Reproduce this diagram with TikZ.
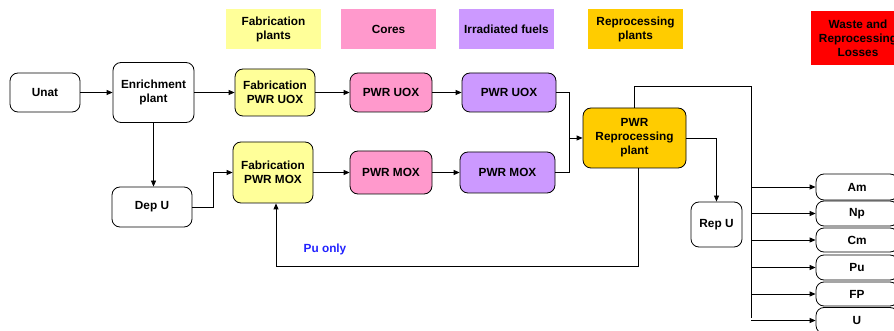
\documentclass[tikz,border=0pt]{standalone}
\usepackage{fontspec}
\setmainfont{Liberation Sans}
\usetikzlibrary{arrows.meta}
\definecolor{fabc}{HTML}{FFFF99}
\definecolor{corec}{HTML}{FF99CC}
\definecolor{irrc}{HTML}{CC99FF}
\definecolor{repc}{HTML}{FFCC00}
\definecolor{wastec}{HTML}{FF0000}
\definecolor{puc}{HTML}{2222FF}
\begin{document}
\begin{tikzpicture}[x=1pt,y=-1pt,
  every node/.style={font=\fontsize{11.8}{14}\selectfont\bfseries, align=center, inner sep=0pt},
  box/.style={draw, line width=0.8pt, rounded corners=8pt},
  legend/.style={draw=none},
  arr/.style={line width=0.8pt, -{Triangle[length=6pt,width=5pt]}},
  ln/.style={line width=0.8pt}]
\clip (0,0) rectangle (894,331);
\fill[white] (0,0) rectangle (894,331);
% legend
\node[legend, fill=fabc, minimum width=95pt, minimum height=40pt] (lfab) at (273.5,29) {Fabrication\\plants};
\node[legend, fill=corec, minimum width=95pt, minimum height=40pt] (lcore) at (388.5,29) {Cores};
\node[legend, fill=irrc, minimum width=95pt, minimum height=40pt] (lirr) at (506.5,29) {Irradiated fuels};
\node[legend, fill=repc, minimum width=95pt, minimum height=40pt] (lrep) at (635.5,29) {Reprocessing\\plants};
\node[legend, fill=wastec, minimum width=94pt, minimum height=54pt] (lwaste) at (858,38) {Waste and\\Reprocessing\\Losses};
% main nodes
\node[box, minimum width=70pt, minimum height=39pt] (unat) at (45,92.5) {Unat};
\node[box, minimum width=81pt, minimum height=60pt] (enr) at (153.5,92.5) {Enrichment\\plant};
\node[box, fill=fabc, minimum width=80pt, minimum height=47pt] (fuox) at (275,92.5) {Fabrication\\PWR UOX};
\node[box, fill=corec, minimum width=82pt, minimum height=39pt] (cuox) at (391,92.5) {PWR UOX};
\node[box, fill=irrc, minimum width=94pt, minimum height=39pt] (iuox) at (509,92.5) {PWR UOX};
\node[box, fill=repc, minimum width=103pt, minimum height=60pt] (rep) at (634.5,138) {PWR\\Reprocessing\\plant};
\node[box, fill=fabc, minimum width=80pt, minimum height=61pt] (fmox) at (273,172.5) {Fabrication\\PWR MOX};
\node[box, fill=corec, minimum width=82pt, minimum height=43pt] (cmox) at (391,172.5) {PWR MOX};
\node[box, fill=irrc, minimum width=95pt, minimum height=41pt] (imox) at (507.5,172.5) {PWR MOX};
\node[box, minimum width=80pt, minimum height=40pt] (depu) at (152,207) {Dep U};
\node[box, minimum width=51pt, minimum height=45pt] (repu) at (716.5,224.5) {Rep U};
% waste boxes
\node[box, minimum width=82pt, minimum height=26pt] (am) at (857,187) {Am};
\node[box, minimum width=82pt, minimum height=25pt] (np) at (857,213.5) {Np};
\node[box, minimum width=82pt, minimum height=24pt] (cm) at (857,240) {Cm};
\node[box, minimum width=82pt, minimum height=25pt] (pu) at (857,267.5) {Pu};
\node[box, minimum width=82pt, minimum height=24pt] (fp) at (857,294) {FP};
\node[box, minimum width=82pt, minimum height=26pt] (u) at (857,320.5) {U};
% connectors
\draw[arr] (unat.east) -- (unat.east -| enr.west);
\draw[arr] (enr.east) -- (enr.east -| fuox.west);
\draw[arr] (fuox.east) -- (fuox.east -| cuox.west);
\draw[arr] (cuox.east) -- (cuox.east -| iuox.west);
\draw[arr] (fmox.east) -- (fmox.east -| cmox.west);
\draw[arr] (cmox.east) -- (cmox.east -| imox.west);
\coordinate (jx) at (569,138);
\draw[arr] (iuox.east) -| (jx) -- (rep.west);
\draw[ln] (imox.east) -| (jx);
\draw[arr] (enr.south) -- (enr.south |- depu.north);
\coordinate (jd) at (213,172.5);
\draw[arr] (depu.east) -| (jd) -- (fmox.west);
\draw[arr] (rep.east) -| (repu.north);
\coordinate (pa) at (638,168);
\coordinate (pb) at (276,266);
\draw[arr] (pa) |- (pb) -- (pb |- fmox.south);
\node[text=puc] (puonly) at (325,249) {Pu only};
\coordinate (bus) at (751,86);
\coordinate (busend) at (751,318);
\draw[ln] (rep.north) |- (bus) -- (busend);
\foreach \n in {am,np,cm,pu,fp,u}{
  \draw[arr] (bus |- \n.west) -- (\n.west);
}
\end{tikzpicture}
\end{document}
